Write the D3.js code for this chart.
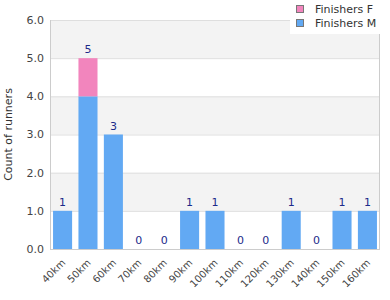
<!DOCTYPE html>
<html>
<head>
<meta charset="utf-8">
<script src="https://cdn.jsdelivr.net/npm/d3@7"></script>
<style>
  body { margin: 0; background: #fff; }
  svg { font-family: "DejaVu Sans", sans-serif; }
</style>
</head>
<body>
<svg id="chart" width="390" height="300"></svg>
<script>
// dades
const categories = ["40km", "50km", "60km", "70km", "80km", "90km", "100km", "110km", "120km", "130km", "140km", "150km", "160km"];
const finishersM = [1, 4, 3, 0, 0, 1, 1, 0, 0, 1, 0, 1, 1];
const finishersF = [0, 1, 0, 0, 0, 0, 0, 0, 0, 0, 0, 0, 0];
const yTicks = [0, 1, 2, 3, 4, 5, 6];

const colorM = "#62a9f3";
const colorF = "#f285bd";

const svg = d3.select("#chart");
const margin = { top: 20, right: 10, bottom: 51, left: 50 };
const width = 390 - margin.left - margin.right;
const height = 300 - margin.top - margin.bottom;

const g = svg.append("g").attr("transform", `translate(${margin.left},${margin.top})`);

const x = d3.scaleBand().domain(categories).range([0, width]).paddingInner(0.25).paddingOuter(0.12);
const y = d3.scaleLinear().domain([0, 6]).range([height, 0]);

// bandes alternes
g.selectAll(".band")
  .data(yTicks.slice(0, -1))
  .enter()
  .append("rect")
  .attr("x", 0)
  .attr("width", width)
  .attr("y", d => y(d + 1))
  .attr("height", d => y(d) - y(d + 1))
  .attr("fill", d => d % 2 === 1 ? "#f3f3f3" : "#fff");

// graella
g.selectAll(".grid")
  .data(yTicks)
  .enter()
  .append("line")
  .attr("x1", 0)
  .attr("x2", width)
  .attr("y1", d => y(d) + 0.5)
  .attr("y2", d => y(d) + 0.5)
  .attr("stroke", "#dedede");

// barres
const stacked = categories.map((c, i) => ({ cat: c, m: finishersM[i], f: finishersF[i] }));

g.selectAll(".barM")
  .data(stacked)
  .enter()
  .append("rect")
  .attr("x", d => x(d.cat))
  .attr("width", x.bandwidth())
  .attr("y", d => y(d.m))
  .attr("height", d => y(0) - y(d.m))
  .attr("fill", colorM);

g.selectAll(".barF")
  .data(stacked)
  .enter()
  .append("rect")
  .attr("x", d => x(d.cat))
  .attr("width", x.bandwidth())
  .attr("y", d => y(d.m + d.f))
  .attr("height", d => y(d.m) - y(d.m + d.f))
  .attr("fill", colorF);

// etiquetes de valor
g.selectAll(".val")
  .data(stacked)
  .enter()
  .append("text")
  .attr("x", d => x(d.cat) + x.bandwidth() / 2)
  .attr("y", d => y(d.m + d.f) - 5)
  .attr("text-anchor", "middle")
  .text(d => d.m + d.f)
  .style("font-size", "11px")
  .style("fill", "#1c2a8a");

// vores
g.append("line").attr("x1", 0.5).attr("x2", 0.5).attr("y1", 0).attr("y2", height).attr("stroke", "#ccc");
g.append("line").attr("x1", width - 0.5).attr("x2", width - 0.5).attr("y1", 0).attr("y2", height).attr("stroke", "#ccc");
g.append("line").attr("x1", 0).attr("x2", width).attr("y1", height + 0.5).attr("y2", height + 0.5).attr("stroke", "#ccc");

// eix Y
g.selectAll(".ytick")
  .data(yTicks)
  .enter()
  .append("text")
  .attr("x", -6)
  .attr("y", d => y(d))
  .attr("dy", "0.35em")
  .attr("text-anchor", "end")
  .text(d => d.toFixed(1))
  .style("font-size", "11px")
  .style("fill", "#444");

svg.append("text")
  .attr("transform", `translate(8,${margin.top + height / 2}) rotate(-90)`)
  .attr("text-anchor", "middle")
  .attr("dy", "0.35em")
  .text("Count of runners")
  .style("font-size", "11px")
  .style("fill", "#333");

// eix X
g.selectAll(".xtick")
  .data(categories)
  .enter()
  .append("text")
  .attr("transform", d => `translate(${x(d) + x.bandwidth() / 2 + 1},${height + 12}) rotate(-45)`)
  .attr("text-anchor", "end")
  .attr("dy", "0.35em")
  .text(d => d)
  .style("font-size", "10px")
  .style("fill", "#444");

// llegenda
const legend = svg.append("g").attr("transform", "translate(290,0)");
legend.append("rect").attr("width", 100).attr("height", 34).attr("fill", "#fff");
const legendItems = [{ label: "Finishers F", color: colorF }, { label: "Finishers M", color: colorM }];
legendItems.forEach((d, i) => {
  legend.append("rect")
    .attr("x", 6.5).attr("y", 5.5 + i * 14)
    .attr("width", 7).attr("height", 7)
    .attr("fill", d.color).attr("stroke", "#777");
  legend.append("text")
    .attr("x", 25).attr("y", 9 + i * 14)
    .attr("dy", "0.35em")
    .text(d.label)
    .style("font-size", "11px")
    .style("fill", "#333");
});
</script>
</body>
</html>
